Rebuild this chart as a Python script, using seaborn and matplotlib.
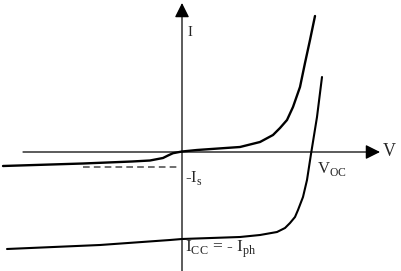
import matplotlib
matplotlib.use("Agg")
import matplotlib.pyplot as plt
import seaborn as sns
import pandas as pd

# Dark (diode) I-V curve, arbitrary units
dark_v = [-17.9, -9.9, -5.0, -3.2, -1.9, -1.4, -0.9, 0.0, 1.5, 5.8, 7.8, 9.1, 9.8, 10.5,
          11.1, 11.8, 12.3, 12.8, 13.3]
dark_i = [-1.4, -1.15, -0.95, -0.85, -0.6, -0.35, -0.12, 0.05, 0.2, 0.5, 1.0, 1.7, 2.4, 3.2,
          4.5, 6.5, 8.9, 11.2, 13.6]
# Illuminated I-V curve
light_v = [-17.5, -8.2, -1.2, 0.0, 5.8, 7.8, 9.5, 10.3, 10.8, 11.3, 11.6, 12.1, 12.5, 12.9,
           13.5, 14.0]
light_i = [-9.7, -9.3, -8.8, -8.7, -8.5, -8.3, -8.0, -7.6, -7.1, -6.5, -5.8, -4.5, -2.8, -0.2,
           3.5, 7.5]
# Reference level -Is
is_level = -1.5
is_v = [-9.9, -0.2]

sns.set_theme(style="white")
plt.rcParams['font.family'] = ['Liberation Serif', 'DejaVu Serif']

fig = plt.figure(figsize=(4.01, 2.71), dpi=100)
ax = fig.add_axes([0, 0, 1, 1])
ax.set_xlim(-18.2, 21.9)
ax.set_ylim(-11.9, 15.2)
ax.axis('off')

dark = pd.DataFrame({"V": dark_v, "I": dark_i})
light = pd.DataFrame({"V": light_v, "I": light_i})
sns.lineplot(data=dark, x="V", y="I", sort=False, estimator=None, color="black", lw=1.7,
             solid_joinstyle='round', solid_capstyle='round', ax=ax)
sns.lineplot(data=light, x="V", y="I", sort=False, estimator=None, color="black", lw=1.5,
             solid_joinstyle='round', solid_capstyle='round', ax=ax)

# dashed -Is line
ax.plot(is_v, [is_level, is_level], color="#555555", lw=1.2, ls=(0, (4, 2.5)))

# axes with arrows
ax.annotate('', xy=(19.8, 0), xytext=(-15.9, 0),
            arrowprops=dict(arrowstyle='-|>', mutation_scale=22, lw=0.9, color='black',
                            shrinkA=0, shrinkB=0))
ax.annotate('', xy=(0, 14.9), xytext=(0, -11.9),
            arrowprops=dict(arrowstyle='-|>', mutation_scale=22, lw=0.9, color='black',
                            shrinkA=0, shrinkB=0))

ax.text(20.7, 0.1, "V", fontsize=13, ha='center', va='center')
ax.text(0.8, 12.0, "I", fontsize=10.5, ha='center', va='center')
ax.text(0.3, -2.6, "-I$_\\mathregular{s}$", fontsize=12, ha='left', va='center')
ax.text(13.5, -1.7, "V$_\\mathregular{OC}$", fontsize=12, ha='left', va='center')
ax.text(0.3, -9.7, "I$_\\mathregular{CC}$ = - I$_\\mathregular{ph}$", fontsize=12.5, ha='left', va='center')

fig.savefig("out.png", dpi=100)
